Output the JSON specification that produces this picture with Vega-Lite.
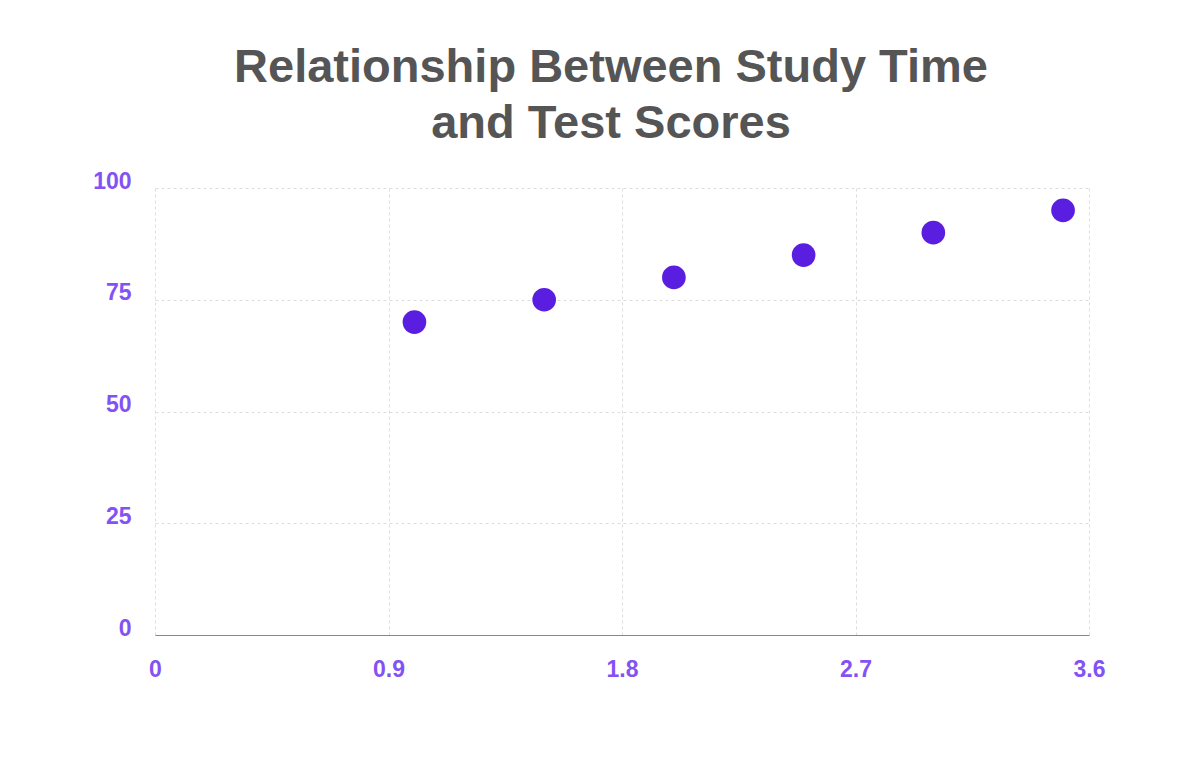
{
  "$schema": "https://vega.github.io/schema/vega-lite/v6.json",
  "autosize": "none",
  "width": 934,
  "height": 447,
  "padding": {"left": 155, "top": 188, "right": 111, "bottom": 136},
  "background": "white",
  "title": {
    "text": ["Relationship Between Study Time", "and Test Scores"],
    "font": "Liberation Sans",
    "fontSize": 47,
    "fontWeight": "bold",
    "color": "#555555",
    "anchor": "middle",
    "frame": "group",
    "dx": -11,
    "offset": 22,
    "lineHeight": 56
  },
  "data": {
    "values": [
      {"hours": 1.0, "score": 70},
      {"hours": 1.5, "score": 75},
      {"hours": 2.0, "score": 80},
      {"hours": 2.5, "score": 85},
      {"hours": 3.0, "score": 90},
      {"hours": 3.5, "score": 95}
    ]
  },
  "mark": {"type": "point", "filled": true, "shape": "circle", "size": 560, "color": "#5a1ee0", "opacity": 1},
  "encoding": {
    "x": {
      "field": "hours",
      "type": "quantitative",
      "scale": {"domain": [0, 3.6], "nice": false, "zero": true},
      "axis": {
        "title": null,
        "values": [0, 0.9, 1.8, 2.7, 3.6],
        "format": ".1~f",
        "ticks": false,
        "domain": true,
        "domainColor": "#888888",
        "domainWidth": 1,
        "grid": true,
        "gridColor": "#dddddd",
        "gridDash": [3, 3],
        "labelFont": "Liberation Sans",
        "labelFontSize": 23,
        "labelFontWeight": "bold",
        "labelColor": "#8352f5",
        "labelPadding": 23,
        "labelFlush": false
      }
    },
    "y": {
      "field": "score",
      "type": "quantitative",
      "scale": {"domain": [0, 100], "nice": false},
      "axis": {
        "title": null,
        "values": [0, 25, 50, 75, 100],
        "ticks": false,
        "domain": false,
        "grid": true,
        "gridColor": "#dddddd",
        "gridDash": [3, 3],
        "labelFont": "Liberation Sans",
        "labelFontSize": 23,
        "labelFontWeight": "bold",
        "labelColor": "#8352f5",
        "labelPadding": 24,
        "labelBaseline": "alphabetic",
        "labelFlush": false
      }
    }
  },
  "config": {"view": {"stroke": null}}
}
